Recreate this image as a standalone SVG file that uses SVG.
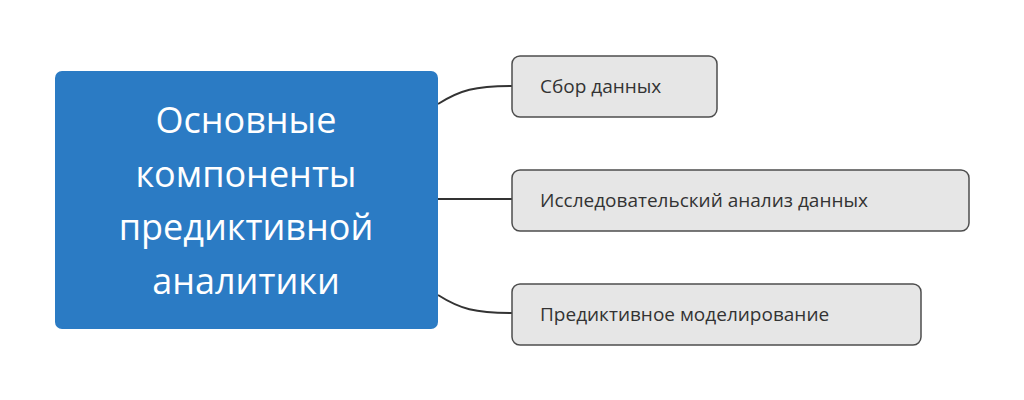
<svg xmlns="http://www.w3.org/2000/svg" width="1024" height="400" viewBox="0 0 1024 400">
<style>
.c{fill:none;stroke:#333;stroke-width:2}
.n rect{fill:#e6e6e6;stroke:#4d4d4d;stroke-width:1.5}
.n text{font-family:"Open Sans",sans-serif;font-size:19px;fill:#333}
.m text{font-family:"Open Sans",sans-serif;font-size:36px;fill:#fff;text-anchor:middle}
</style>
<rect width="1024" height="400" fill="#fff"/>
<g id="connectors">
<path class="c" d="M438,104 C460,90 475,86 512,86"/>
<path class="c" d="M438,199 L512,199"/>
<path class="c" d="M438,295 C460,309 475,313 512,313"/>
</g>
<g id="center" class="m">
<rect x="55" y="71" width="383" height="258" rx="7" fill="#2b7bc4"/>
<text x="246" y="133">Основные</text>
<text x="246" y="187">компоненты</text>
<text x="246" y="240">предиктивной</text>
<text x="246" y="294">аналитики</text>
</g>
<g id="n1" class="n"><rect x="512" y="56" width="205" height="61" rx="8"/><text x="540" y="93">Сбор данных</text></g>
<g id="n2" class="n"><rect x="512" y="170" width="457" height="61" rx="8"/><text x="540" y="207">Исследовательский анализ данных</text></g>
<g id="n3" class="n"><rect x="512" y="284" width="409" height="61" rx="8"/><text x="540" y="321">Предиктивное моделирование</text></g>
</svg>
